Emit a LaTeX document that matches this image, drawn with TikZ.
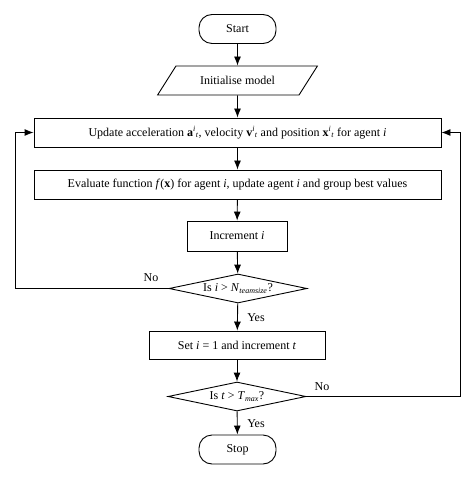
\documentclass[tikz,border=0pt]{standalone}
\usepackage{amsmath}
\usepackage{fontspec}
\setmainfont{Liberation Serif}
\usepackage{tikz}
\usetikzlibrary{arrows.meta,shapes.geometric}
\tikzset{arrow/.style={-{Latex[length=9pt,width=7pt]}}}
\tikzset{process/.style={draw, rectangle, minimum height=29pt, inner sep=0pt}}
\tikzset{terminal/.style={draw, rectangle, rounded corners=13pt, minimum width=77pt, minimum height=29pt}}
\tikzset{decision/.style={draw, diamond, aspect=4.8, inner sep=0pt, minimum width=138pt, minimum height=29pt}}
\tikzset{io/.style={draw, trapezium, trapezium left angle=37, trapezium right angle=143, trapezium stretches=true, minimum width=161pt, minimum height=29pt, inner sep=0pt}}
\newcommand{\vsub}[2]{$\textbf{#1}^{\textit{#2}}{}_{\textit{t}}$}

\begin{document}
\begin{tikzpicture}[x=1pt, y=-1pt, line width=0.9pt, font=\fontsize{12}{14}\selectfont]
    \useasboundingbox (0, 0) rectangle (474, 478);
    \node[terminal] (start) at (237.5, 29) {Start};
    \node[io] (init) at (237.5, 80.5) {Initialise model};
    \node[process, minimum width=407pt] (upd) at (237.5, 132.5)
      {Update acceleration \vsub{a}{i}, velocity \vsub{v}{i} and position \vsub{x}{i} for agent \textit{i}};
    \node[process, minimum width=407pt] (eval) at (237.5, 184.5)
      {Evaluate function \textit{f}(\textbf{x}) for agent \textit{i}, update agent \textit{i} and group best values};
    \node[process, minimum width=100pt, minimum height=30pt] (inc) at (237, 236) {Increment \textit{i}};
    \node[decision] (chki) at (238, 288.5) {Is \textit{i} > \textit{N}$_{\textit{teamsize}}$?};
    \node[process, minimum width=176pt, minimum height=28pt] (set) at (237, 345) {Set \textit{i} = 1 and increment \textit{t}};
    \node[decision] (chkt) at (237, 396.5) {Is \textit{t} > \textit{T}$_{\textit{max}}$?};
    \node[terminal] (stop) at (237.5, 449.5) {Stop};
    % straight flow
    \draw[arrow] (start) to (init);
    \draw[arrow] (init) to (upd);
    \draw[arrow] (upd) to (eval);
    \draw[arrow] (eval) to (inc);
    \draw[arrow] (inc) to (chki);
    \draw[arrow] (chki) to (set);
    \draw[arrow] (set) to (chkt);
    \draw[arrow] (chkt) to (stop);
    % loops back
    \coordinate (lft) at (15, 288.5);
    \coordinate (rgt) at (460, 396.5);
    \draw[arrow] (chki.west) -- (lft) |- (upd.west);
    \draw[arrow] (chkt.east) -- (rgt) |- (upd.east);
    \node (no1) at (151, 278) {No};
    \node (no2) at (322, 387) {No};
    \node (yes1) at (256, 318) {Yes};
    \node (yes2) at (256, 424) {Yes};
\end{tikzpicture}
\end{document}
